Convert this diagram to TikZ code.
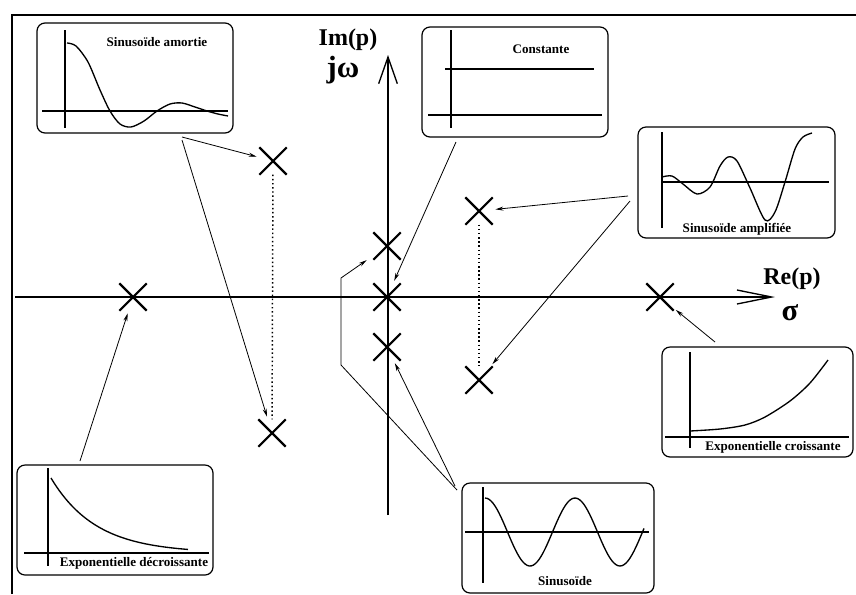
\documentclass[tikz,border=0pt]{standalone}
\usepackage{fontspec}
\setmainfont{Liberation Serif}
\usepackage{tikz}
\usetikzlibrary{arrows.meta, positioning, shapes.misc, calc}

\begin{document}
\begin{tikzpicture}[x=0.75pt, y=-0.75pt,
    panel/.style={draw, rounded corners=6pt, line width=0.9pt, inner sep=0pt},
    tag/.style={font=\fontsize{9.8}{11}\selectfont\bfseries, inner sep=0pt},
    axlab/.style={font=\fontsize{18}{20}\selectfont\bfseries, inner sep=0pt},
    greek/.style={font=\fontsize{23}{25}\selectfont\bfseries, inner sep=0pt},
    pole/.style={cross out, draw, line width=1.6pt, minimum size=19pt, inner sep=0pt},
    curve/.style={line width=1pt, smooth},
    small/.style={line width=0.8pt},
    link/.style={-{Stealth[length=6pt, width=3pt]}, line width=0.6pt, shorten >=2pt}]
  \useasboundingbox (0,0) rectangle (856,594);
  % frame
  \draw[line width=1pt] (12,594) -- (12,15) -- (856,15);

  % axes
  \draw[line width=1pt, -{Straight Barb[length=26pt, width=10.5pt]}] (15,297) -- (775,297);
  \draw[line width=1pt, -{Straight Barb[length=20pt, width=14pt]}] (388,515) -- (388,55);
  \node[axlab] (im) at (348,40) {Im(p)};
  \node[greek] (jw) at (343,70) {jω};
  \node[axlab] (re) at (792,279) {Re(p)};
  \node[greek] (sig) at (790,313) {σ};

  % poles
  \node[pole] (p1) at (133,297) {};
  \node[pole] (p2) at (273,161) {};
  \node[pole] (p3) at (272,433) {};
  \node[pole] (p4) at (387,246) {};
  \node[pole] (p5) at (387,297) {};
  \node[pole] (p6) at (387,347) {};
  \node[pole] (p7) at (479,211) {};
  \node[pole] (p8) at (479,380) {};
  \node[pole] (p9) at (660,297) {};
  \draw[dotted, line width=1.1pt] (p2) -- (p3);
  \draw[dotted, line width=1.1pt] (p7) -- (p8);

  % sinusoide amortie
  \node[panel, minimum width=147pt, minimum height=82.5pt] (amort) at (135,78) {};
  \node[tag] (amortlab) at (157,42) {Sinusoïde amortie};
  \draw[small] (65,30) -- (65,128);
  \draw[small] (42,111) -- (228,111);
  \draw[curve] plot coordinates {(67,43) (76,46) (88,62) (100,90) (110,111)
    (120,124) (131,127) (144,121) (157,111) (170,104) (182,103) (195,107)
    (207,111) (218,114) (228,116)};

  % constante
  \node[panel, minimum width=139.5pt, minimum height=82.5pt] (const) at (515,82) {};
  \node[tag] (constlab) at (541,49) {Constante};
  \draw[small] (451,30) -- (451,128);
  \draw[small] (428,115) -- (602,115);
  \draw[line width=1pt] (445,69) -- (594,69);

  % sinusoide amplifiee
  \node[panel, minimum width=147.75pt, minimum height=83.25pt] (ampl) at (736.5,182.5) {};
  \node[tag] (ampllab) at (737,229) {Sinusoïde amplifiée};
  \draw[small] (662,132) -- (662,228);
  \draw[small] (661,182) -- (829,182);
  \draw[curve] plot coordinates {(662,177) (672,176) (683,184) (697,194)
    (710,187) (720,166) (728,157) (737,161) (750,188) (765,220) (775,212)
    (785,182) (795,149) (803,137) (812,133)};

  % exponentielle croissante
  \node[panel, minimum width=143.25pt, minimum height=82.5pt] (crois) at (757.5,402) {};
  \node[tag] (croislab) at (773,447) {Exponentielle croissante};
  \draw[small] (690,352) -- (690,448);
  \draw[small] (665,437) -- (849,437);
  \draw[curve] plot coordinates {(690,431) (720,429) (745,425) (765,417)
    (790,401) (810,383) (828,360)};

  % exponentielle decroissante
  \node[panel, minimum width=147pt, minimum height=82.5pt] (decr) at (115,520) {};
  \node[tag] (decrlab) at (134,563) {Exponentielle décroissante};
  \draw[small] (48,468) -- (48,566);
  \draw[small] (24,553) -- (209,553);
  \draw[line width=1pt, domain=51:188, samples=50]
    plot (\x, {553-75*exp(-(\x-51)/45)});

  % sinusoide
  \node[panel, minimum width=144pt, minimum height=82.5pt] (sinus) at (558,538) {};
  \node[tag] (sinuslab) at (565,581) {Sinusoïde};
  \draw[small] (483,487) -- (483,583);
  \draw[small] (465,532) -- (649,532);
  \draw[line width=1pt, domain=485:644, samples=80]
    plot (\x, {532-34*cos(4*(\x-485))});

  % links
  \coordinate (a1) at (182,137);
  \coordinate (a2) at (182,140);
  \coordinate (c1) at (456,142);
  \coordinate (m1) at (628,196);
  \coordinate (m2) at (630,201);
  \coordinate (x1) at (715,342);
  \coordinate (d1) at (80,461);
  \coordinate (s1) at (455,486);
  \coordinate (s2) at (457,490);
  \coordinate (bend1) at (341,365);
  \coordinate (bend2) at (341,278);
  \draw[link] (a1) -- (p2);
  \draw[link] (a2) -- (p3);
  \draw[link] (c1) -- (p5);
  \draw[link] (m1) -- (p7);
  \draw[link] (m2) -- (p8);
  \draw[link] (x1) -- (p9);
  \draw[link] (d1) -- (p1);
  \draw[link] (s1) -- (p6);
  \draw[link, shorten >=6pt] (s2) -- (bend1) -- (bend2) -- (p4);
\end{tikzpicture}
\end{document}
